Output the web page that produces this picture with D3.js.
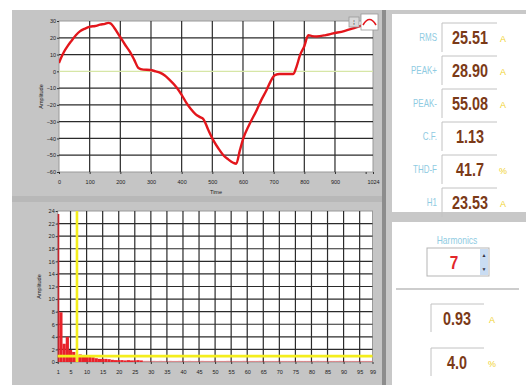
<!DOCTYPE html>
<html>
<head>
<meta charset="utf-8">
<script src="https://cdn.jsdelivr.net/npm/d3@7"></script>
<style>
    body { margin: 0; background: #fff; }
    svg { display: block; }
    .tick text { font-family: "Liberation Sans", Arial, sans-serif; font-size: 5.5px; fill: #222; }
    .tick line { stroke: #333; }
    .domain { display: none; }
</style>
</head>
<body>
<svg width="526" height="385"></svg>
<script>
// waveform (time domain)
const waveTime = [0, 8, 16, 28, 40, 55, 68, 85, 101, 118, 134, 150, 161, 168, 180, 199, 215, 231, 245, 259,
    275, 297, 315, 329, 345, 360, 383, 400, 416, 430, 445, 460, 471, 487, 503, 520, 536, 552, 568, 578,
    590, 601, 620, 645, 660, 677, 690, 704, 720, 745, 764, 775, 786, 800, 813, 825, 840, 870, 894, 930,
    960, 987, 1000]
const waveAmp = [5, 8.5, 11.5, 15, 18, 21.5, 23.8, 25.5, 26.6, 27, 27.8, 28.3, 28.9, 28.6, 26, 20.6, 16, 11.7, 7, 2,
    1, 0.8, 0, -0.8, -2.5, -5, -9.5, -14, -19, -22.5, -25.5, -27.3, -28.5, -35, -41, -46, -50, -52.5, -54.5, -55.1,
    -47, -40, -32, -23, -17, -11.1, -6, -2.2, -1.6, -1.6, -1.6, 3, 9.7, 15, 21.5, 21, 20.8, 21.6, 22.6, 24,
    25.6, 27.2, 28]
const ampTicks = [30, 20, 10, 0, -10, -20, -30, -40, -50, -60]
const timeTicks = [0, 100, 200, 300, 400, 500, 600, 700, 800, 900, 1000, 1024]

// harmonic spectrum
const harmonicOrder = d3.range(1, 100)
const harmonicAmp = [23.53, 7.9, 2.9, 4.0, 1.9, 1.6, 0.93, 1.2, 0.8, 0.9,
    0.8, 0.75, 0.6, 0.5, 0.5, 0.5, 0.45, 0.35, 0.3, 0.3,
    0.3, 0.25, 0.3, 0.25, 0.25, 0.3, 0.25, 0.2, 0.2, 0.18,
    0.2, 0.18, 0.2, 0.18, 0.18, 0.2, 0.18, 0.18, 0.2, 0.18,
    0.18, 0.2, 0.18, 0.18, 0.18, 0.2, 0.18, 0.18, 0.18, 0.2,
    0.18, 0.18, 0.18, 0.2, 0.18, 0.18, 0.18, 0.18, 0.2, 0.18,
    0.18, 0.18, 0.18, 0.2, 0.18, 0.18, 0.18, 0.18, 0.18, 0.2,
    0.18, 0.18, 0.18, 0.18, 0.18, 0.2, 0.18, 0.18, 0.18, 0.18,
    0.18, 0.2, 0.18, 0.18, 0.18, 0.18, 0.18, 0.18, 0.2, 0.18,
    0.18, 0.18, 0.18, 0.18, 0.18, 0.18, 0.18, 0.18, 0.18]
const harmonicTicks = [1, 5, 10, 15, 20, 25, 30, 35, 40, 45, 50, 55, 60, 65, 70, 75, 80, 85, 90, 95, 99]
const spectrumTicks = [0, 2, 4, 6, 8, 10, 12, 14, 16, 18, 20, 22, 24]
const cursorOrder = 7
const cursorAmp = 0.93

// readouts
const readoutLabels = ['RMS', 'PEAK+', 'PEAK-', 'C.F.', 'THD-F', 'H1']
const readoutValues = ['25.51', '28.90', '55.08', '1.13', '41.7', '23.53']
const readoutUnits = ['A', 'A', 'A', '', '%', 'A']
const harmonicValues = ['0.93', '4.0']
const harmonicUnits = ['A', '%']

const svg = d3.select('svg')
const font = '"Liberation Sans", Arial, sans-serif'

// condensed text: the LabVIEW readouts use a narrow face
function narrowText(g, x, y, str, size, color, weight, anchor, squeeze) {
    return g.append('text')
        .attr('transform', `translate(${x},${y}) scale(${squeeze},1)`)
        .attr('text-anchor', anchor)
        .attr('font-family', font).attr('font-weight', weight).attr('font-size', size)
        .attr('fill', color).text(str)
}

// panels
svg.append('rect').attr('x', 12).attr('y', 10).attr('width', 371).attr('height', 375).attr('fill', '#c5c5c5')
svg.append('rect').attr('x', 12).attr('y', 196).attr('width', 371).attr('height', 6).attr('fill', '#b8b8b8')
svg.append('rect').attr('x', 383).attr('y', 10).attr('width', 143).attr('height', 375).attr('fill', '#c8c8c8')
svg.append('rect').attr('x', 382).attr('y', 10).attr('width', 4).attr('height', 375).attr('fill', '#8c8c8c')
svg.append('rect').attr('x', 392).attr('y', 14).attr('width', 134).attr('height', 198).attr('fill', '#fff')
svg.append('rect').attr('x', 392).attr('y', 222).attr('width', 134).attr('height', 163).attr('fill', '#fff')

function plotFrame(x0, y0, w, h, id) {
    svg.append('rect').attr('x', x0).attr('y', y0).attr('width', w).attr('height', h)
        .attr('fill', '#fff').attr('stroke', '#9a9a9a').attr('stroke-width', 1)
    svg.append('clipPath').attr('id', id).append('rect')
        .attr('x', x0).attr('y', y0).attr('width', w).attr('height', h)
}

// ---------- top chart ----------
const top1 = { left: 59, right: 373, top: 21, bottom: 172 }
const xT = d3.scaleLinear().domain([0, 1024]).range([top1.left, top1.right])
const yT = d3.scaleLinear().domain([-60, 30]).range([top1.bottom, top1.top])
plotFrame(top1.left, top1.top, top1.right - top1.left, top1.bottom - top1.top, 'clipTop')

const gridT = svg.append('g')
gridT.selectAll('.h').data(ampTicks.filter(d => d !== 0 && d !== 30 && d !== -60)).enter().append('line')
    .attr('x1', top1.left).attr('x2', top1.right).attr('y1', d => yT(d)).attr('y2', d => yT(d))
    .attr('stroke', '#2b2b2b').attr('stroke-width', 1.2)
gridT.selectAll('.v').data(timeTicks.filter(d => d > 0 && d < 1000)).enter().append('line')
    .attr('y1', top1.top).attr('y2', top1.bottom).attr('x1', d => xT(d)).attr('x2', d => xT(d))
    .attr('stroke', '#2b2b2b').attr('stroke-width', 1.2)
gridT.append('line').attr('x1', top1.left).attr('x2', top1.right).attr('y1', yT(0)).attr('y2', yT(0))
    .attr('stroke', '#d6e6a6').attr('stroke-width', 1.2)

const wave = waveTime.map((t, i) => [t, waveAmp[i]])
svg.append('path').datum(wave)
    .attr('clip-path', 'url(#clipTop)')
    .attr('d', d3.line().x(d => xT(d[0])).y(d => yT(d[1])).curve(d3.curveMonotoneX))
    .attr('fill', 'none').attr('stroke', '#e3161c').attr('stroke-width', 2.4)

svg.append('g').attr('transform', `translate(0,${top1.bottom})`)
    .call(d3.axisBottom(xT).tickValues(timeTicks).tickSize(2).tickPadding(6)
        .tickFormat(d => (d === 1000 ? '' : d)))
svg.append('g').attr('transform', `translate(${top1.left},0)`)
    .call(d3.axisLeft(yT).tickValues(ampTicks).tickSize(2).tickPadding(1))
svg.append('text').attr('x', 216).attr('y', 194).attr('text-anchor', 'middle')
    .attr('font-family', font).attr('font-size', 5.5).attr('fill', '#222').text('Time')
svg.append('text').attr('transform', `translate(43,${(top1.top + top1.bottom) / 2}) rotate(-90)`)
    .attr('text-anchor', 'middle').attr('font-family', font).attr('font-size', 5.5).attr('fill', '#222')
    .text('Amplitude')

// legend glyphs
svg.append('rect').attr('x', 349).attr('y', 17).attr('width', 10).attr('height', 10)
    .attr('fill', '#d9d9d9').attr('stroke', '#9a9a9a').attr('stroke-width', 0.8)
svg.append('text').attr('x', 354).attr('y', 25).attr('text-anchor', 'middle')
    .attr('font-family', font).attr('font-size', 7).attr('fill', '#444').text('⁞')
svg.append('rect').attr('x', 361).attr('y', 14).attr('width', 17).attr('height', 16)
    .attr('fill', '#fff').attr('stroke', '#9a9a9a').attr('stroke-width', 0.8)
svg.append('path').attr('d', 'M363,25 Q369.5,14 376,25')
    .attr('fill', 'none').attr('stroke', '#e3161c').attr('stroke-width', 1.6)

// ---------- bottom chart ----------
const bot = { left: 57.7, right: 372.5, top: 211, bottom: 362 }
const xB = d3.scaleLinear().domain([1, 99]).range([bot.left, bot.right])
const yB = d3.scaleLinear().domain([0, 24]).range([bot.bottom, bot.top])
plotFrame(bot.left, bot.top, bot.right - bot.left, bot.bottom - bot.top, 'clipBot')

const gridB = svg.append('g')
gridB.selectAll('.h').data(spectrumTicks.filter(d => d > 0 && d < 24)).enter().append('line')
    .attr('x1', bot.left).attr('x2', bot.right).attr('y1', d => yB(d)).attr('y2', d => yB(d))
    .attr('stroke', '#2b2b2b').attr('stroke-width', 1.2)
gridB.selectAll('.v').data(harmonicTicks.filter(d => d > 1 && d < 99)).enter().append('line')
    .attr('y1', bot.top).attr('y2', bot.bottom).attr('x1', d => xB(d)).attr('x2', d => xB(d))
    .attr('stroke', '#2b2b2b').attr('stroke-width', 1.2)

svg.append('g').attr('clip-path', 'url(#clipBot)')
    .selectAll('rect').data(harmonicOrder).enter().append('rect')
    .attr('x', d => xB(d - 0.5))
    .attr('width', d => xB(d + 0.5) - xB(d - 0.5))
    .attr('y', (d, i) => yB(harmonicAmp[i]))
    .attr('height', (d, i) => yB(0) - yB(harmonicAmp[i]))
    .attr('fill', (d, i) => (i === 0 ? '#c4232b' : '#e8222a'))
    .attr('fill-opacity', (d, i) => (harmonicAmp[i] < 0.22 ? 0.4 : 1))

// cursor
svg.append('line').attr('x1', xB(cursorOrder)).attr('x2', xB(cursorOrder)).attr('y1', bot.top).attr('y2', bot.bottom)
    .attr('stroke', '#f4ee1c').attr('stroke-width', 2.6)
svg.append('line').attr('x1', bot.left).attr('x2', bot.right).attr('y1', yB(cursorAmp)).attr('y2', yB(cursorAmp))
    .attr('stroke', '#f4ee1c').attr('stroke-width', 2.6)

svg.append('g').attr('transform', `translate(0,${bot.bottom})`)
    .call(d3.axisBottom(xB).tickValues(harmonicTicks).tickSize(2).tickPadding(6))
svg.append('g').attr('transform', `translate(${bot.left},0)`)
    .call(d3.axisLeft(yB).tickValues(spectrumTicks).tickSize(2).tickPadding(1))
svg.append('text').attr('transform', `translate(41,${(bot.top + bot.bottom) / 2}) rotate(-90)`)
    .attr('text-anchor', 'middle').attr('font-family', font).attr('font-size', 5.5).attr('fill', '#222')
    .text('Amplitude')

// ---------- readouts ----------
const rowY = d3.scaleLinear().domain([0, 5]).range([37, 202])
const rows = svg.append('g')
readoutLabels.forEach((lab, i) => {
    const cy = rowY(i)
    narrowText(rows, 437, cy + 3.5, lab, 10, '#8fcbe2', 'normal', 'end', 0.8)
    rows.append('path').attr('d', `M442,${cy + 15} V${cy - 14} H497`)
        .attr('fill', 'none').attr('stroke', '#c2c2c2').attr('stroke-width', 1)
    narrowText(rows, 470, cy + 6.5, readoutValues[i], 18, '#7b3a17', 'bold', 'middle', 0.8)
    rows.append('text').attr('x', 503).attr('y', cy + 5).attr('text-anchor', 'middle')
        .attr('font-family', font).attr('font-size', 9).attr('fill', '#f0d22c').text(readoutUnits[i])
})

narrowText(svg, 457, 244, 'Harmonics', 10, '#8fcbe2', 'normal', 'middle', 0.85)
svg.append('rect').attr('x', 427).attr('y', 248).attr('width', 62).attr('height', 28)
    .attr('fill', '#fff').attr('stroke', '#b5b5b5').attr('stroke-width', 1)
svg.append('rect').attr('x', 480).attr('y', 249).attr('width', 8).attr('height', 26).attr('fill', '#c9dcf2')
svg.append('text').attr('x', 484).attr('y', 257).attr('text-anchor', 'middle')
    .attr('font-family', font).attr('font-size', 5).attr('fill', '#334').text('▲')
svg.append('text').attr('x', 484).attr('y', 271).attr('text-anchor', 'middle')
    .attr('font-family', font).attr('font-size', 5).attr('fill', '#334').text('▼')
narrowText(svg, 454, 269, cursorOrder, 18, '#e3262a', 'bold', 'middle', 0.85)
svg.append('line').attr('x1', 396).attr('x2', 519).attr('y1', 289).attr('y2', 289)
    .attr('stroke', '#bdbdbd').attr('stroke-width', 1.5)

harmonicValues.forEach((v, i) => {
    const cy = 318 + i * 44
    svg.append('path').attr('d', `M431,${cy + 14} V${cy - 14} H484`)
        .attr('fill', 'none').attr('stroke', '#c2c2c2').attr('stroke-width', 1)
    narrowText(svg, 457, cy + 6.5, v, 18, '#7b3a17', 'bold', 'middle', 0.8)
    svg.append('text').attr('x', 492).attr('y', cy + 5).attr('text-anchor', 'middle')
        .attr('font-family', font).attr('font-size', 9).attr('fill', '#f0d22c').text(harmonicUnits[i])
})
</script>
</body>
</html>
